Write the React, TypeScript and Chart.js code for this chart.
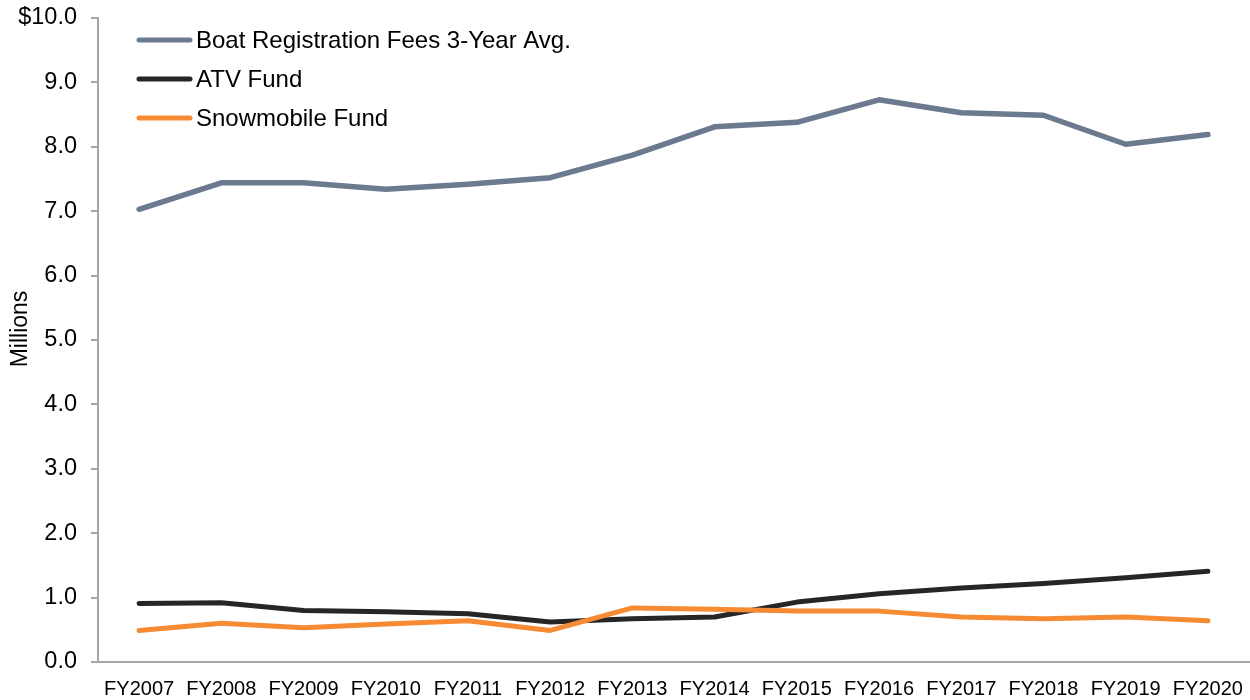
import React, { useEffect, useRef } from "react";
import { Chart, registerables } from "chart.js";

Chart.register(...registerables);

const categories = ["FY2007", "FY2008", "FY2009", "FY2010", "FY2011", "FY2012", "FY2013", "FY2014", "FY2015", "FY2016", "FY2017", "FY2018", "FY2019", "FY2020"];
const boatFees = [7.03, 7.44, 7.44, 7.34, 7.42, 7.52, 7.87, 8.31, 8.38, 8.73, 8.53, 8.49, 8.04, 8.19];
const atvFund = [0.91, 0.92, 0.80, 0.78, 0.75, 0.62, 0.67, 0.70, 0.93, 1.06, 1.15, 1.22, 1.31, 1.41];
const snowmobileFund = [0.49, 0.60, 0.53, 0.59, 0.64, 0.49, 0.84, 0.82, 0.79, 0.79, 0.70, 0.67, 0.70, 0.64];
const seriesNames = ["Boat Registration Fees 3-Year Avg.", "ATV Fund", "Snowmobile Fund"];
const seriesColors = ["#6B7A8F", "#262626", "#F68B33"];
const seriesWidths = [5.5, 5, 5];
const yTickValues = [0, 1, 2, 3, 4, 5, 6, 7, 8, 9, 10];
const yAxisTitle = "Millions";

const FONT = "'Liberation Sans', Arial, sans-serif";

const overlayPlugin = {
  id: "overlay",
  afterDraw(chart: any) {
    const ctx = chart.ctx;
    ctx.save();
    const rows = [40, 79, 118];
    seriesNames.forEach((name, i) => {
      const y = rows[i];
      ctx.strokeStyle = seriesColors[i];
      ctx.lineWidth = 5;
      ctx.lineCap = "round";
      ctx.beginPath();
      ctx.moveTo(139, y);
      ctx.lineTo(190, y);
      ctx.stroke();
      ctx.fillStyle = "#000";
      ctx.font = `24px ${FONT}`;
      ctx.textBaseline = "middle";
      ctx.textAlign = "left";
      ctx.fillText(name, 196, y + 1);
    });
    ctx.translate(21, 329);
    ctx.rotate(-Math.PI / 2);
    ctx.font = `23px ${FONT}`;
    ctx.textAlign = "center";
    ctx.textBaseline = "middle";
    ctx.fillStyle = "#000";
    ctx.fillText(yAxisTitle, 0, 0);
    ctx.restore();
  },
};

export default function App() {
  const ref = useRef<HTMLCanvasElement | null>(null);
  useEffect(() => {
    if (!ref.current) return;
    const datasets = [boatFees, atvFund, snowmobileFund].map((d, i) => ({
      label: seriesNames[i],
      data: d,
      borderColor: seriesColors[i],
      backgroundColor: seriesColors[i],
      borderWidth: seriesWidths[i],
      pointRadius: 0,
      tension: 0,
      borderCapStyle: "round" as const,
      borderJoinStyle: "round" as const,
      order: 2 - i,
    }));
    const chart = new Chart(ref.current, {
      type: "line",
      data: { labels: categories, datasets },
      options: {
        responsive: false,
        animation: false,
        devicePixelRatio: 1,
        layout: { padding: { top: 18, right: 1, left: 0, bottom: 0 } },
        plugins: { legend: { display: false }, tooltip: { enabled: false } },
        scales: {
          x: {
            offset: true,
            grid: { display: false, drawTicks: false },
            border: { display: true, color: "#A6A6A6", width: 2 },
            ticks: {
              color: "#000",
              font: { family: FONT, size: 20 },
              padding: 15,
              autoSkip: false,
              maxRotation: 0,
              minRotation: 0,
            },
            afterFit(scale: any) {
              scale.height = 38;
              scale.paddingLeft = 0;
              scale.paddingRight = 0;
            },
          },
          y: {
            min: 0,
            max: 10,
            afterBuildTicks(scale: any) {
              scale.ticks = yTickValues.map((v) => ({ value: v }));
            },
            grid: { drawOnChartArea: false, drawTicks: true, tickLength: 7, color: "#A6A6A6", lineWidth: 2 },
            border: { display: true, color: "#A6A6A6", width: 2 },
            ticks: {
              color: "#000",
              font: { family: FONT, size: 23.5 },
              padding: 14,
              callback: (v: any) => (v === 10 ? "$10.0" : Number(v).toFixed(1)),
            },
            afterFit(scale: any) {
              scale.width = 98;
              scale.paddingTop = 0;
              scale.paddingBottom = 0;
            },
          },
        },
      },
      plugins: [overlayPlugin],
    });
    return () => chart.destroy();
  }, []);
  return (
    <div style={{ position: "fixed", left: 0, top: 0, width: 1250, height: 700, background: "#fff" }}>
      <canvas ref={ref} width={1250} height={700} style={{ width: 1250, height: 700, display: "block" }} />
    </div>
  );
}
